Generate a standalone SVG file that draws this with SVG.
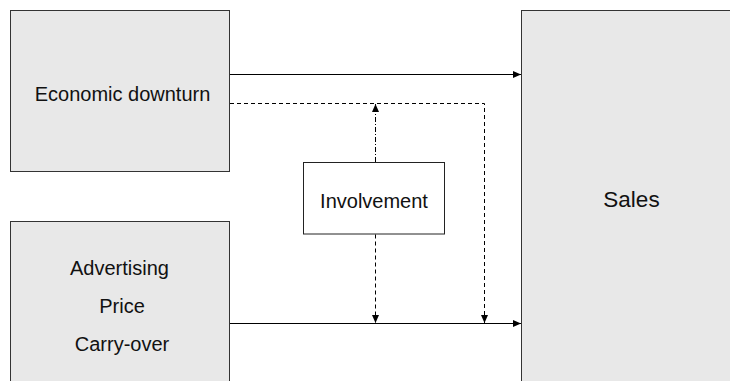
<svg xmlns="http://www.w3.org/2000/svg" width="730" height="381" viewBox="0 0 730 381">
<style>
.box{fill:#e8e8e8;stroke:#333;stroke-width:1}
.wbox{fill:#fff;stroke:#222;stroke-width:1}
.t{font-family:"Liberation Sans",Arial,sans-serif;font-size:20px;fill:#111;text-anchor:middle}
.ln{fill:none;stroke:#000;stroke-width:1}
.dash{stroke-dasharray:4,3}
.dashdot{stroke-dasharray:5,2,1,2}
</style>
<defs>
<marker id="ah" markerUnits="userSpaceOnUse" markerWidth="9" markerHeight="7" refX="8" refY="3.5" orient="auto">
<path d="M0,0 L8,3.5 L0,7 Z" fill="#000"/>
</marker>
</defs>
<rect width="730" height="381" fill="#fff"/>
<g id="node-economic">
<rect class="box" x="10.5" y="10.5" width="219" height="161"/>
<text class="t" x="122.5" y="101">Economic downturn</text>
</g>
<g id="node-marketing">
<rect class="box" x="10.5" y="221.5" width="219" height="200"/>
<text class="t" x="119.5" y="275">Advertising</text>
<text class="t" x="122" y="313">Price</text>
<text class="t" x="122" y="350.5">Carry-over</text>
</g>
<g id="node-sales">
<rect class="box" x="521.5" y="10.5" width="250" height="400"/>
<text class="t" x="631.5" y="206.5" style="font-size:22.5px">Sales</text>
</g>
<g id="node-involvement">
<rect class="wbox" x="303.5" y="162.5" width="141" height="71.5"/>
<text class="t" x="374" y="207.5">Involvement</text>
</g>
<g id="connectors">
<line class="ln" x1="230" y1="74.5" x2="521" y2="74.5" marker-end="url(#ah)"/>
<line class="ln" x1="230" y1="323.5" x2="521" y2="323.5" marker-end="url(#ah)"/>
<polyline class="ln dash" points="230,103.5 484.5,103.5 484.5,323"/>
<line class="ln" x1="484.5" y1="314" x2="484.5" y2="323" marker-end="url(#ah)"/>
<line class="ln dashdot" x1="375.5" y1="162" x2="375.5" y2="104" marker-end="url(#ah)"/>
<line class="ln dash" x1="375.5" y1="234.5" x2="375.5" y2="323" marker-end="url(#ah)"/>
</g>
</svg>
